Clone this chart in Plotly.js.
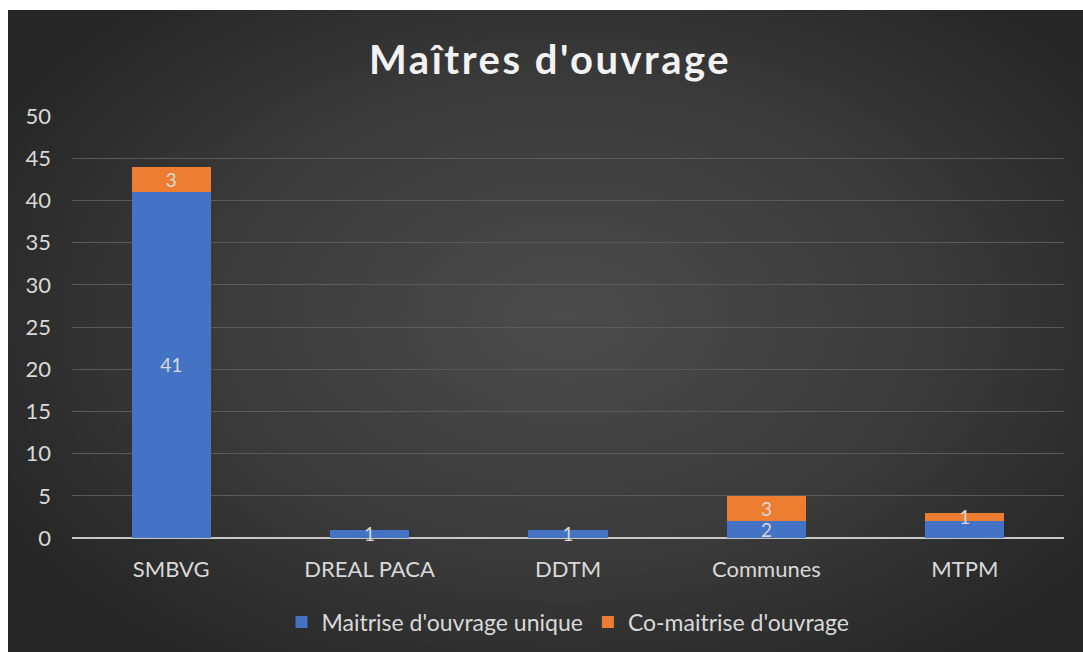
<!DOCTYPE html>
<html>
<head>
<meta charset="utf-8">
<script src="https://cdn.plot.ly/plotly-3.0.1.min.js"></script>
<style>
  html, body { margin: 0; padding: 0; background: #ffffff; width: 1083px; height: 652px; overflow: hidden; }
  #panel { position: absolute; left: 8px; top: 10px; width: 1075px; height: 642px;
    background: radial-gradient(ellipse 60% 65% at 52% 48%, #4b4b4b 0%, #3b3b3b 55%, #262626 100%); }
  #chart { position: absolute; left: 0; top: 0; width: 1083px; height: 652px; }
  .gtitle { letter-spacing: 2.5px; }
</style>
</head>
<body>
<div id="panel"></div>
<div id="chart"></div>
<script>
const categories = ["SMBVG", "DREAL PACA", "DDTM", "Communes", "MTPM"];
const uniqueValues = [41, 1, 1, 2, 2];
const coValues = [3, 0, 0, 3, 1];
const seriesNames = ["Maitrise d'ouvrage unique", "Co-maitrise d'ouvrage"];
const yTicks = [0, 5, 10, 15, 20, 25, 30, 35, 40, 45, 50];
// labels that the original chart shows (the overlapping one on MTPM is hidden)
const showUniqueLabel = [true, true, true, true, false];

const FONT = "Lato, 'Open Sans', sans-serif";
const labelFont = { family: FONT, size: 19, color: "#d9d9d9" };

function barTrace(name, vals, color, show) {
  return {
    type: "bar", name: name, x: categories, y: vals,
    marker: { color: color },
    text: vals.map((v, i) => (v && (!show || show[i])) ? String(v) : ""),
    textposition: "inside", insidetextanchor: "middle", textangle: 0,
    constraintext: "none", cliponaxis: false,
    textfont: labelFont, insidetextfont: labelFont,
    hoverinfo: "x+y+name"
  };
}

const data = [
  barTrace(seriesNames[0], uniqueValues, "#4472c4", showUniqueLabel),
  barTrace(seriesNames[1], coValues, "#ed7d31", null)
];

const layout = {
  width: 1083, height: 652,
  paper_bgcolor: "rgba(0,0,0,0)", plot_bgcolor: "rgba(0,0,0,0)",
  barmode: "stack", bargap: 0.6,
  margin: { l: 72, r: 19, t: 116, b: 114 },
  font: { family: FONT, color: "#d9d9d9" },
  title: {
    text: "<b>Maîtres d'ouvrage</b>",
    font: { family: FONT, size: 40, color: "#f2f2f2" },
    x: 0.508, xanchor: "center", y: 1 - 60 / 652, yanchor: "middle"
  },
  xaxis: {
    type: "category", showgrid: false, showline: false, ticks: "",
    tickfont: { family: FONT, size: 22, color: "#d9d9d9" },
    ticklabelstandoff: 16, zeroline: false
  },
  yaxis: {
    range: [0, 50], tickvals: yTicks, ticktext: yTicks.map(String),
    showgrid: true, gridcolor: "#5a5a5a", gridwidth: 1,
    zeroline: true, zerolinecolor: "#c8c8c8", zerolinewidth: 2,
    showline: false, ticks: "",
    tickfont: { family: FONT, size: 22, color: "#d9d9d9" },
    ticklabelstandoff: 20
  },
  showlegend: true,
  legend: {
    orientation: "h", x: 0.5, xanchor: "center",
    yref: "container", y: 1 - 622 / 652, yanchor: "middle",
    font: { family: FONT, size: 23, color: "#d9d9d9" },
    bgcolor: "rgba(0,0,0,0)", itemwidth: 30, traceorder: "normal"
  }
};

Plotly.newPlot("chart", data, layout, { displayModeBar: false, staticPlot: true });
</script>
</body>
</html>
